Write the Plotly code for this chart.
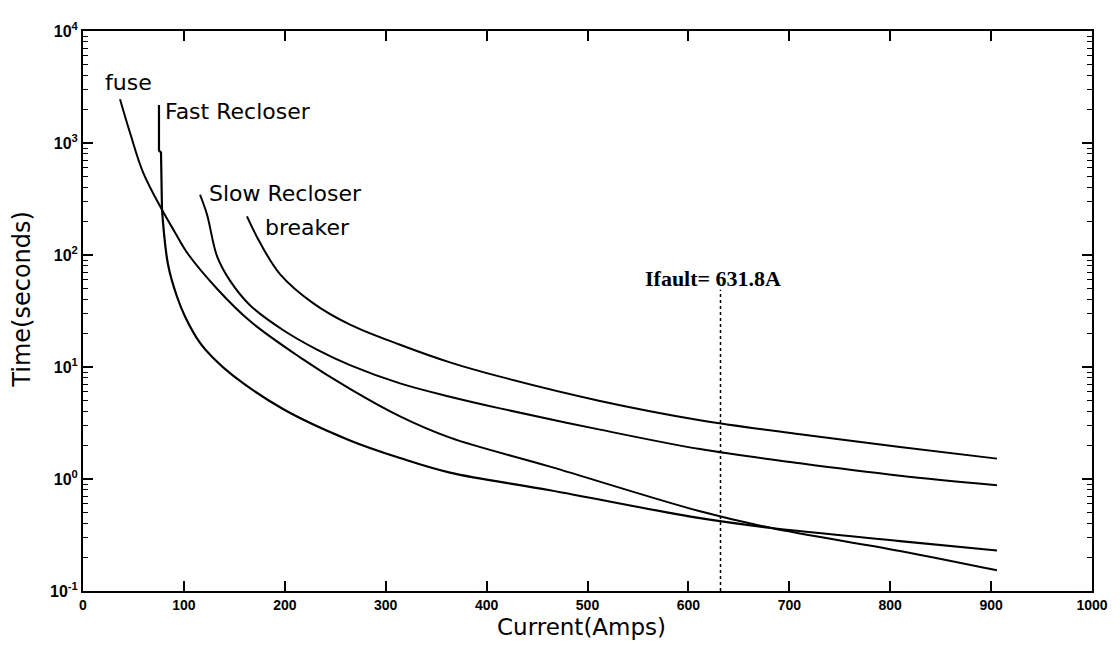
import plotly.graph_objects as go

# ---- data ----
fuse_x = [36.7, 46.6, 59.5, 78.3, 91.2, 104.1, 132.8, 165.5, 215.1, 264.6, 314.2, 363.7, 462.8, 611.5, 680.9, 809.7, 905.8]
fuse_t = [2460, 1233, 547, 253, 159, 102, 50, 25.7, 12.2, 6.37, 3.62, 2.34, 1.29, 0.515, 0.367, 0.228, 0.153]

fast_vert_x = [75.3, 75.3, 77.3, 78.3]
fast_vert_t = [2183, 857, 823, 253]
fast_x = [78.3, 84.2, 93.2, 101.1, 116.0, 128.8, 148.7, 198.2, 264.6, 314.2, 363.7, 462.8, 611.5, 680.9, 809.7, 905.8]
fast_t = [253, 82.8, 42.4, 28.3, 16.4, 12.1, 8.38, 4.22, 2.21, 1.54, 1.14, 0.794, 0.447, 0.367, 0.279, 0.23]

slow_x = [116.0, 122.9, 132.8, 145.7, 165.5, 198.2, 231.9, 264.6, 314.2, 363.7, 413.3, 512.4, 611.5, 710.6, 809.7, 905.8]
slow_t = [345, 230, 97.8, 59, 35.6, 21.4, 14.3, 10.4, 7.14, 5.43, 4.27, 2.76, 1.85, 1.38, 1.07, 0.88]

brk_x = [162.5, 175.4, 195.2, 228.0, 264.6, 314.2, 363.7, 413.3, 512.4, 611.5, 710.6, 809.7, 905.8]
brk_t = [221, 129, 67.6, 37.2, 23.9, 15.8, 11.0, 8.2, 4.98, 3.35, 2.51, 1.93, 1.52]

i_fault = 631.8
fault_line_t = [0.1, 49]

x_ticks = [0, 100, 200, 300, 400, 500, 600, 700, 800, 900, 1000]
y_ticks = [0.1, 1, 10, 100, 1000, 10000]
y_ticktext = ["10<sup>-1</sup>", "10<sup>0</sup>", "10<sup>1</sup>", "10<sup>2</sup>", "10<sup>3</sup>", "10<sup>4</sup>"]
y_minor = [m * 10 ** e for e in range(-1, 4) for m in range(2, 10)]

labels = [
    ("fuse", 19.8, 3.54),
    ("Fast Recloser", 79.3, 3.285),
    ("Slow Recloser", 123, 2.55),
    ("breaker", 178.4, 2.25),
]

fig = go.Figure()
spl = dict(color="black", width=2, shape="spline", smoothing=1.0)
fig.add_trace(go.Scatter(x=fuse_x, y=fuse_t, mode="lines", line=spl))
fig.add_trace(go.Scatter(x=fast_vert_x, y=fast_vert_t, mode="lines", line=dict(color="black", width=2.2)))
fig.add_trace(go.Scatter(x=fast_x, y=fast_t, mode="lines", line=dict(color="black", width=2.2, shape="spline", smoothing=1.0)))
fig.add_trace(go.Scatter(x=slow_x, y=slow_t, mode="lines", line=spl))
fig.add_trace(go.Scatter(x=brk_x, y=brk_t, mode="lines", line=spl))
fig.add_trace(go.Scatter(x=[i_fault, i_fault], y=fault_line_t, mode="lines",
                         line=dict(color="black", width=1.5, dash="dot")))

for txt, lx, ly in labels:
    fig.add_annotation(x=lx, y=ly, xref="x", yref="y", text=txt, showarrow=False,
                       xanchor="left", yanchor="middle",
                       font=dict(family="DejaVu Sans", size=22, color="black"))

fig.add_annotation(x=555, y=1.79, xref="x", yref="y", text="<b>Ifault= 631.8A</b>", showarrow=False,
                   xanchor="left", yanchor="middle",
                   font=dict(family="Liberation Serif", size=22, color="black"))

# axis titles
fig.add_annotation(x=0.4936, y=-0.065, xref="paper", yref="paper", text="Current(Amps)", showarrow=False,
                   xanchor="center", yanchor="middle",
                   font=dict(family="DejaVu Sans", size=23, color="black"))
fig.add_annotation(x=-0.0605, y=0.522, xref="paper", yref="paper", text="Time(seconds)", showarrow=False,
                   xanchor="center", yanchor="middle", textangle=-90,
                   font=dict(family="DejaVu Sans", size=24, color="black"))

fig.update_layout(
    width=1112, height=637,
    margin=dict(l=75, r=28, t=16, b=54),
    paper_bgcolor="white", plot_bgcolor="white",
    showlegend=False,
    xaxis=dict(
        range=[0, 1000], tickvals=x_ticks, ticks="inside", ticklen=10, tickwidth=1.5,
        tickcolor="black", showline=True, linecolor="black", linewidth=2, mirror="ticks",
        showgrid=False, zeroline=False,
        tickfont=dict(family="Arial", size=14, color="black", weight="bold"),
    ),
    yaxis=dict(
        type="log", range=[-1, 4], tickvals=y_ticks, ticktext=y_ticktext,
        ticks="inside", ticklen=10, tickwidth=1.5, tickcolor="black",
        showline=True, linecolor="black", linewidth=2, mirror="ticks",
        showgrid=False, zeroline=False,
        tickfont=dict(family="Arial", size=16, color="black", weight="bold"),
        minor=dict(tickvals=y_minor, ticks="inside", ticklen=5, tickwidth=1.2, tickcolor="black", showgrid=False),
    ),
)

fig.write_html("out.html")
